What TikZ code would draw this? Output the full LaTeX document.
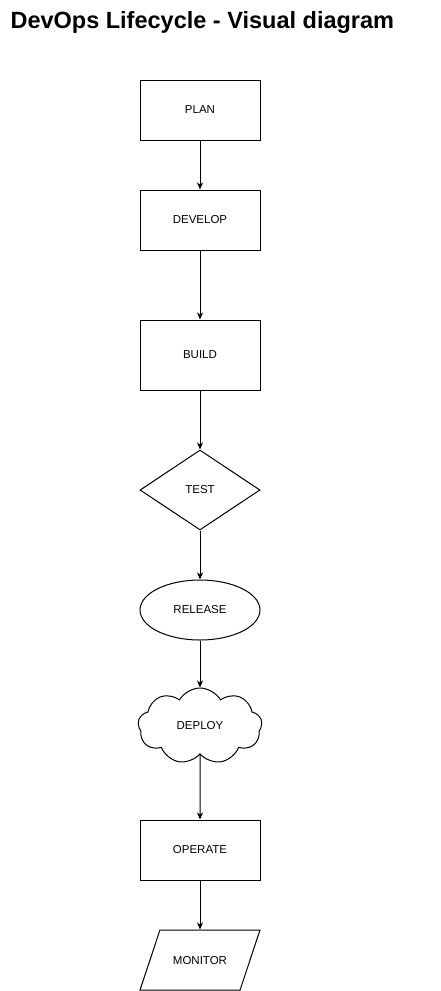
\documentclass[tikz,border=0pt]{standalone}
\usepackage{fontspec}
\setmainfont{Liberation Sans}
\usetikzlibrary{arrows.meta, positioning, shapes.geometric, shapes.symbols}

\begin{document}
\begin{tikzpicture}[
    x=1pt, y=-1pt,
    block/.style={
      rectangle,
      draw=black,
      line width=1pt,
      fill=white,
      minimum width=120pt,
      minimum height=60pt,
      inner sep=0pt,
      font=\fontsize{11.5}{14}\selectfont
    },
    decision/.style={
      block,
      diamond,
      aspect=1.5,
      minimum width=120pt,
      minimum height=80pt
    },
    release/.style={
      block,
      ellipse,
      minimum width=120pt,
      minimum height=60pt
    },
    puffy/.style={
      block,
      cloud,
      cloud puffs=9,
      cloud puff arc=120,
      aspect=1.6,
      minimum width=124pt,
      minimum height=76pt
    },
    io/.style={
      block,
      trapezium,
      trapezium left angle=71.6,
      trapezium right angle=108.4,
      trapezium stretches body=true,
      text height=8pt,
      text depth=0pt,
      inner ysep=26pt,
      minimum height=0pt,
      minimum width=120pt
    },
    line/.style={-{Stealth[length=7pt, width=6pt, inset=2pt]}, line width=1pt}
  ]
    \useasboundingbox (0,0) rectangle (440,991);

    \node[anchor=west, font=\fontsize{23.5}{28}\selectfont\bfseries] (title) at (7,22) {DevOps Lifecycle - Visual diagram};

    \node[block] (plan) at (200,110) {PLAN};
    \node[block] (develop) at (200,220) {DEVELOP};
    \node[block, minimum height=70pt] (build) at (200,355) {BUILD};
    \node[decision] (test) at (200,490) {TEST};
    \node[release] (release) at (200,610) {RELEASE};
    \node[puffy] (deploy) at (200,726) {DEPLOY};
    \node[block] (operate) at (200,850) {OPERATE};
    \node[io] (monitor) at (200,960) {MONITOR};

    \draw[line] (plan) -- (develop);
    \draw[line] (develop) -- (build);
    \draw[line] (build) -- (test);
    \draw[line] (test) -- (release);
    \draw[line] (release) -- (deploy);
    \draw[line] (deploy) -- (operate);
    \draw[line] (operate) -- (monitor);
  \end{tikzpicture}
\end{document}
